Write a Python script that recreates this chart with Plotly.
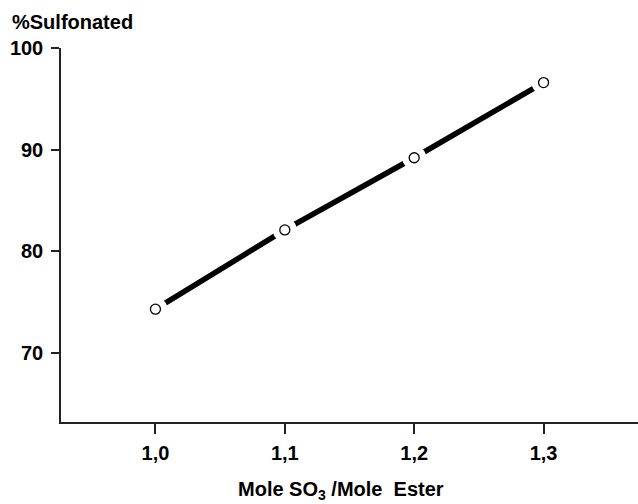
import plotly.graph_objects as go

mole_ratio = [1.0, 1.1, 1.2, 1.3]
pct_sulfonated = [74.3, 82.1, 89.2, 96.6]
x_ticks = [1.0, 1.1, 1.2, 1.3]
y_ticks = [70, 80, 90, 100]

FONT = "Liberation Sans, Arial, sans-serif"

fig = go.Figure()
fig.add_trace(go.Scatter(x=mole_ratio, y=pct_sulfonated, mode="lines",
                         line=dict(color="black", width=5.5), hoverinfo="skip"))
fig.add_trace(go.Scatter(x=mole_ratio, y=pct_sulfonated, mode="markers",
                         marker=dict(size=24, color="white", line=dict(width=0)),
                         hoverinfo="skip"))
fig.add_trace(go.Scatter(x=mole_ratio, y=pct_sulfonated, mode="markers",
                         marker=dict(size=10, color="white",
                                     line=dict(color="black", width=1.3))))

fig.update_layout(
    width=638, height=504,
    margin=dict(l=61, r=0, t=48, b=82),
    paper_bgcolor="white", plot_bgcolor="white",
    showlegend=False,
    separators=", ",
    font=dict(family=FONT, color="black"),
    xaxis=dict(range=[0.927, 1.373], tickvals=x_ticks, tickformat=".1f",
               showgrid=False, zeroline=False,
               showline=True, linecolor="#222", linewidth=1.5,
               ticks="outside", ticklen=10, tickwidth=1.5, tickcolor="#222",
               ticklabelstandoff=2,
               tickfont=dict(family=FONT, size=20, weight="bold")),
    yaxis=dict(range=[63.2, 100], tickvals=y_ticks,
               showgrid=False, zeroline=False,
               showline=True, linecolor="#222", linewidth=1.5,
               ticks="outside", ticklen=8, tickwidth=1.5, tickcolor="#222",
               ticklabelstandoff=4,
               tickfont=dict(family=FONT, size=20, weight="bold")),
    annotations=[
        dict(text="Mole SO<sub>3</sub> /Mole  Ester", xref="paper", yref="paper",
             x=0.485, y=-0.182, xanchor="center", yanchor="middle",
             showarrow=False, font=dict(family=FONT, size=20, weight="bold")),
        dict(text="%Sulfonated", xref="paper", yref="paper",
             x=-0.088, y=1.07, xanchor="left", yanchor="middle",
             showarrow=False, font=dict(family=FONT, size=20, weight="bold")),
    ],
)

fig.write_html("out.html")
